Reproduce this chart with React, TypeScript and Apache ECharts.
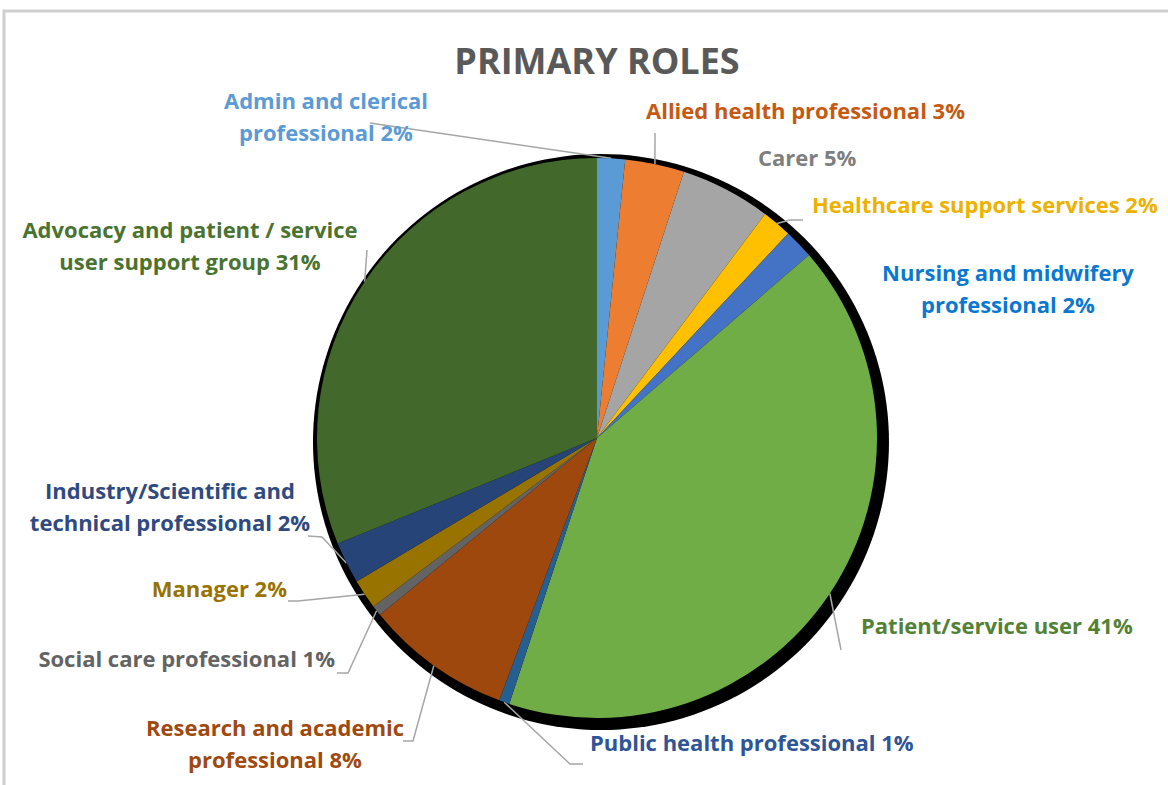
import React, { useEffect, useRef } from "react";
import * as echarts from "echarts";

// ---- data ----
const categories: string[] = [
  "Admin and clerical professional",
  "Allied health professional",
  "Carer",
  "Healthcare support services",
  "Nursing and midwifery professional",
  "Patient/service user",
  "Public health professional",
  "Research and academic professional",
  "Social care professional",
  "Manager",
  "Industry/Scientific and technical professional",
  "Advocacy and patient / service user support group",
];
const shares: number[] = [1.6, 3.4, 5.2, 1.7, 1.7, 41.2, 0.6, 8.4, 0.6, 1.7, 2.4, 31.0];
const labelTexts: string[] = [
  "Admin and clerical\nprofessional",
  "Allied health professional",
  "Carer",
  "Healthcare support services",
  "Nursing and midwifery\nprofessional",
  "Patient/service user",
  "Public health professional",
  "Research and academic\nprofessional",
  "Social care professional",
  "Manager",
  "Industry/Scientific and\ntechnical professional",
  "Advocacy and patient / service\nuser support group",
];
const titleText = "PRIMARY ROLES";

// ---- styles ----
const sliceColors = [
  "#5B9BD5", "#ED7D31", "#A5A5A5", "#FFC000", "#4472C4", "#70AD47",
  "#255E91", "#9E480E", "#636363", "#997300", "#264478", "#43682B",
];
const labelColors = [
  "#5B9BD5", "#C65911", "#7F7F7F", "#EDB100", "#0B78D0", "#548235",
  "#2F5597", "#A0490F", "#636363", "#997300", "#2F4A80", "#4A7330",
];
type Placement = { x: number; y: number; align: string; line: number[][] | null };
const labelPlacement: Placement[] = [
  { x: 326, y: 116, align: "center", line: [[370, 123]] },
  { x: 646, y: 110, align: "left", line: [[655, 133]] },
  { x: 758, y: 157, align: "left", line: null },
  { x: 812, y: 204, align: "left", line: [[790, 220], [803, 220]] },
  { x: 1008, y: 288, align: "center", line: null },
  { x: 861, y: 625, align: "left", line: [[841, 650]] },
  { x: 590, y: 742, align: "left", line: [[570, 764], [583, 764]] },
  { x: 275, y: 743, align: "center", line: [[413, 741], [403, 741]] },
  { x: 335, y: 658, align: "right", line: [[348, 673], [337, 673]] },
  { x: 287, y: 588, align: "right", line: [[298, 601], [288, 601]] },
  { x: 170, y: 506, align: "center", line: [[322, 537], [308, 536]] },
  { x: 190, y: 245, align: "center", line: [[367, 250]] },
];

const FONT = "'Open Sans', Lato, sans-serif";

export default function App() {
  const ref = useRef<HTMLDivElement>(null);
  useEffect(() => {
    if (!ref.current) return;
    const chart = echarts.init(ref.current, null, { renderer: "svg" });
    const data = categories.map((name, i) => ({
      name,
      value: shares[i],
      itemStyle: { color: sliceColors[i] },
      label: { color: labelColors[i] },
      labelLine: { show: labelPlacement[i].line !== null },
    }));
    chart.setOption({
      animation: false,
      backgroundColor: "#ffffff",
      graphic: [
        {
          type: "rect",
          shape: { x: 4, y: 11, width: 1200, height: 800 },
          style: { fill: "none", stroke: "#CFCFCF", lineWidth: 3 },
          silent: true,
          z: -10,
        },
        {
          type: "text",
          x: 597,
          y: 60,
          silent: true,
          style: {
            text: titleText,
            fontFamily: FONT,
            fontWeight: "bold",
            fontSize: 36,
            fill: "#595959",
            align: "center",
            verticalAlign: "middle",
          },
        },
      ],
      series: [
        {
          type: "pie",
          silent: true,
          center: [601, 442],
          radius: 288,
          z: 1,
          label: { show: false },
          labelLine: { show: false },
          data: [{ value: 1, name: "shadow", itemStyle: { color: "#000000" } }],
        },
        {
          type: "pie",
          center: [597, 438],
          radius: 280,
          z: 2,
          startAngle: 90,
          clockwise: true,
          avoidLabelOverlap: false,
          itemStyle: { borderWidth: 0 },
          label: {
            show: true,
            position: "outside",
            fontFamily: FONT,
            fontWeight: "bold",
            fontSize: 22,
            lineHeight: 32,
            formatter: (p: any) => `${labelTexts[p.dataIndex]} ${Math.round(p.percent)}%`,
          },
          labelLine: {
            show: true,
            length: 10,
            length2: 10,
            lineStyle: { color: "#A6A6A6", width: 1.5 },
          },
          labelLayout: (params: any) => {
            const p = labelPlacement[params.dataIndex];
            const start = params.labelLinePoints ? params.labelLinePoints[0] : null;
            const res: any = { x: p.x, y: p.y, align: p.align, verticalAlign: "middle" };
            if (start && p.line) res.labelLinePoints = [start, ...p.line];
            return res;
          },
          data,
        },
      ],
    });
    return () => chart.dispose();
  }, []);
  return (
    <div
      ref={ref}
      style={{ position: "absolute", left: 0, top: 0, width: 1168, height: 785 }}
    />
  );
}
